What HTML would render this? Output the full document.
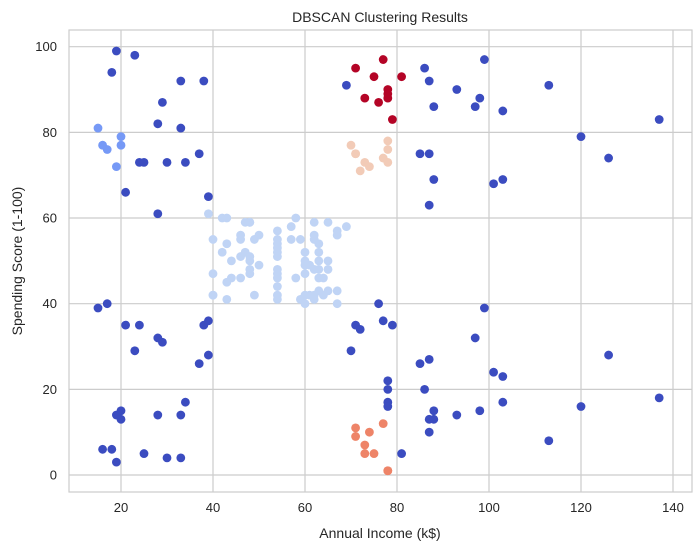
<!DOCTYPE html>
<html><head><meta charset="utf-8"><style>
html,body{margin:0;padding:0;background:#fff;}
svg{display:block;font-family:"Liberation Sans","DejaVu Sans",sans-serif;}
</style></head><body>
<svg id="chart" width="699" height="551" viewBox="0 0 699 551">
<rect x="0" y="0" width="699" height="551" fill="#fff"/>
<g id="grid"></g>
<rect x="69" y="30" width="623" height="462" fill="none" stroke="#cccccc" stroke-width="1.2"/>
<g id="points"></g>
<g id="ticks"></g>
<text x="380" y="22" text-anchor="middle" font-size="14" fill="#262626">DBSCAN Clustering Results</text>
<text x="380" y="538" text-anchor="middle" font-size="14" fill="#262626">Annual Income (k$)</text>
<text x="22" y="261" text-anchor="middle" font-size="14" fill="#262626" transform="rotate(-90 22 261)">Spending Score (1-100)</text>
</svg>
<script>
const xTicks = [20, 40, 60, 80, 100, 120, 140];
const yTicks = [0, 20, 40, 60, 80, 100];
const noiseX = [15,16,17,18,18,19,19,19,20,20,21,21,23,23,24,24,25,25,28,28,28,28,29,29,30,30,33,33,33,33,34,34,37,37,38,38,39,39,39,69,70,71,72,76,77,78,78,78,78,79,81,85,85,86,86,87,87,87,87,87,87,88,88,88,88,93,93,97,97,98,98,99,99,101,101,103,103,103,103,113,113,120,120,126,126,137,137];
const noiseY = [39,6,40,6,94,3,14,99,15,13,35,66,29,98,35,73,5,73,14,82,32,61,31,87,4,73,4,92,14,81,17,73,26,75,35,92,36,28,65,91,29,35,34,40,36,22,17,20,16,35,5,26,75,20,95,27,63,13,75,10,92,13,86,15,69,14,90,32,86,15,88,39,97,24,68,17,85,23,69,8,91,16,79,28,74,18,83];
const leftX = [15,16,17,19,20,20];
const leftY = [81,77,76,72,77,79];
const midX = [39,40,40,40,40,42,42,43,43,43,43,44,44,46,46,46,46,47,47,48,48,48,48,48,48,49,49,50,50,54,54,54,54,54,54,54,54,54,54,54,54,57,57,58,58,59,59,60,60,60,60,60,60,61,61,62,62,62,62,62,62,63,63,63,63,63,63,64,64,65,65,65,65,67,67,67,67,69];
const midY = [61,55,47,42,42,52,60,54,60,45,41,50,46,51,46,56,55,52,59,51,59,50,48,59,47,55,42,49,56,47,54,53,48,52,42,51,55,41,44,57,46,58,55,60,46,55,41,49,40,42,52,47,50,42,49,41,48,59,55,56,42,50,46,43,48,52,54,42,46,48,50,43,59,43,57,56,40,58];
const beigeX = [70,71,71,72,73,74,77,78,78,78];
const beigeY = [77,75,75,71,73,72,74,76,78,73];
const salmonX = [71,71,73,73,74,75,77,78,78];
const salmonY = [11,9,5,7,10,5,12,1,1];
const redX = [71,73,75,76,77,78,78,78,79,81];
const redY = [95,88,93,87,97,90,88,89,83,93];

const NS = "http://www.w3.org/2000/svg";
const L = 69, R = 692, T = 30, B = 492;
function sx(v){ return 121 + (v - 20) * 4.6; }
function sy(v){ return 475 - v * 4.283; }

const grid = document.getElementById('grid');
const ticks = document.getElementById('ticks');
xTicks.forEach(t => {
  const ln = document.createElementNS(NS, 'line');
  ln.setAttribute('x1', sx(t)); ln.setAttribute('x2', sx(t));
  ln.setAttribute('y1', T); ln.setAttribute('y2', B);
  ln.setAttribute('stroke', '#cccccc'); ln.setAttribute('stroke-width', '1.2');
  
  
  grid.appendChild(ln);
  const tx = document.createElementNS(NS, 'text');
  tx.setAttribute('x', sx(t)); tx.setAttribute('y', 512);
  tx.setAttribute('text-anchor', 'middle'); tx.setAttribute('font-size', '13'); tx.setAttribute('fill', '#262626');
  tx.textContent = t;
  
  
  ticks.appendChild(tx);
});
yTicks.forEach(t => {
  const ln = document.createElementNS(NS, 'line');
  ln.setAttribute('y1', sy(t)); ln.setAttribute('y2', sy(t));
  ln.setAttribute('x1', L); ln.setAttribute('x2', R);
  ln.setAttribute('stroke', '#cccccc'); ln.setAttribute('stroke-width', '1.2');
  
  
  grid.appendChild(ln);
  const tx = document.createElementNS(NS, 'text');
  tx.setAttribute('x', 57); tx.setAttribute('y', sy(t) + 4.5);
  tx.setAttribute('text-anchor', 'end'); tx.setAttribute('font-size', '13'); tx.setAttribute('fill', '#262626');
  tx.textContent = t;
  
  
  ticks.appendChild(tx);
});

const pts = document.getElementById('points');
function drawSeries(xs, ys, color, name){
  xs.forEach((x, i) => {
    const c = document.createElementNS(NS, 'circle');
    c.setAttribute('cx', sx(x)); c.setAttribute('cy', sy(ys[i]));
    c.setAttribute('r', 4.4); c.setAttribute('fill', color);
    
    
    pts.appendChild(c);
  });
}
drawSeries(noiseX, noiseY, '#3b4cc0', 'noise-point');
drawSeries(leftX, leftY, '#7699f6', 'cluster-0-point');
drawSeries(midX, midY, '#c0d4f5', 'cluster-1-point');
drawSeries(beigeX, beigeY, '#f2cbb7', 'cluster-2-point');
drawSeries(salmonX, salmonY, '#ee8468', 'cluster-3-point');
drawSeries(redX, redY, '#b40426', 'cluster-4-point');
</script>
</body></html>
